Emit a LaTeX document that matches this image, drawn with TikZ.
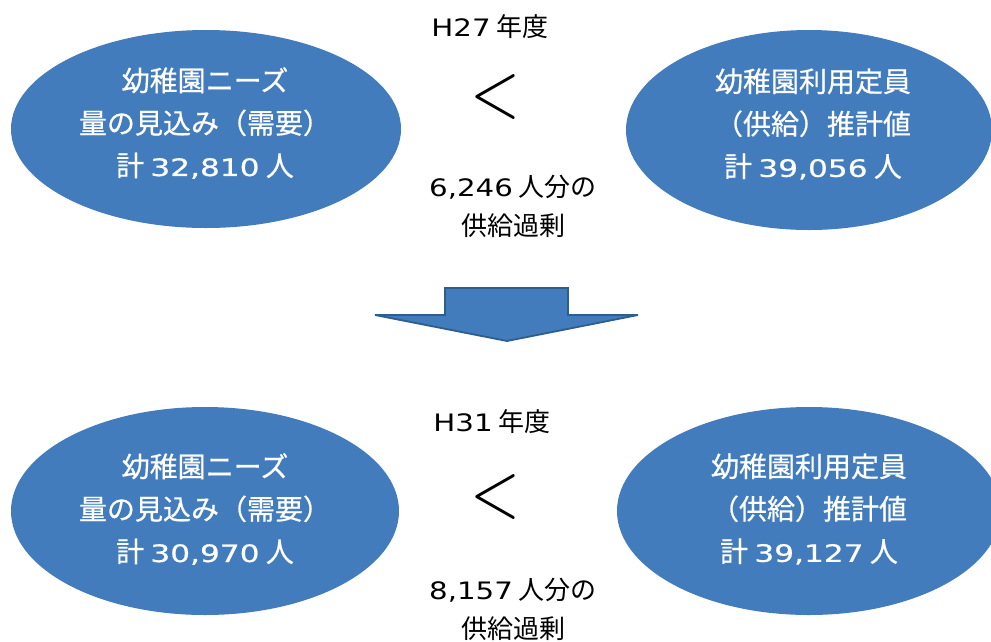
\documentclass[tikz,border=0pt]{standalone}
\usepackage{fontspec}
\usepackage{graphicx}
\setmainfont{Noto Sans CJK JP}
\newfontfamily\ovalfont[FakeBold=0.6]{Noto Sans CJK JP}
\newfontfamily\latfont{DejaVu Sans}
\newfontfamily\latboldfont[FakeBold=0.6]{DejaVu Sans}
\newcommand\lat[1]{\scalebox{1.22}[1]{\latfont\fontsize{24}{28}\selectfont #1}}
\newcommand\ovallat[1]{\scalebox{1.3}[1]{\latboldfont\fontsize{24}{28}\selectfont #1}}
\usetikzlibrary{shapes.geometric}
\definecolor{ellblue}{HTML}{427CBC}
\definecolor{arrowline}{HTML}{2E5E8E}
\begin{document}
\begin{tikzpicture}[x=1pt,y=-1pt,
  oval/.style={ellipse, fill=ellblue, draw=none, inner sep=0pt},
  ovaltext/.style={text=white, align=center, inner sep=0pt, font=\ovalfont\fontsize{28}{42.5}\selectfont},
  midtext/.style={text=black, align=center, inner sep=0pt, font=\fontsize{26}{39}\selectfont},
  ltsign/.style={text=black, inner sep=0pt},
  blockarrow/.style={draw=arrowline, fill=ellblue, line width=1.8pt, line join=miter}]
\useasboundingbox (0,0) rectangle (991,641);
% H27
\node[oval, minimum width=390pt, minimum height=198pt] (need27) at (206,129) {};
\node[ovaltext] (need27t) at (205,123) {幼稚園ニーズ\\量の見込み（需要）\\計 \ovallat{32,810} 人};
\node[oval, minimum width=366pt, minimum height=200pt] (cap27) at (809,130) {};
\node[ovaltext] (cap27t) at (813,124) {幼稚園利用定員\\（供給）推計値\\計 \ovallat{39,056} 人};
\node[midtext] (year27) at (490,27) {\lat{H27} 年度};
\node[ltsign] (lt27) at (495,97) {\resizebox*{50pt}{45pt}{$<$}};
\node[midtext] (surplus27) at (513,206) {\lat{6,246} 人分の\\供給過剰};
% arrow
\path (445,288) coordinate (a1) (568,288) coordinate (a2) (568,315) coordinate (a3)
      (638,315) coordinate (a4) (507,341) coordinate (a5) (375,315) coordinate (a6)
      (445,315) coordinate (a7);
\draw[blockarrow] (a1) -- (a2) -- (a3) -- (a4) -- (a5) -- (a6) -- (a7) -- cycle;
% H31
\node[oval, minimum width=388pt, minimum height=208pt] (need31) at (205,511) {};
\node[ovaltext] (need31t) at (205,509) {幼稚園ニーズ\\量の見込み（需要）\\計 \ovallat{30,970} 人};
\node[oval, minimum width=384pt, minimum height=208pt] (cap31) at (809,511) {};
\node[ovaltext] (cap31t) at (809,509) {幼稚園利用定員\\（供給）推計値\\計 \ovallat{39,127} 人};
\node[midtext] (year31) at (492,422) {\lat{H31} 年度};
\node[ltsign] (lt31) at (495,497) {\resizebox*{50pt}{45pt}{$<$}};
\node[midtext] (surplus31) at (513,609) {\lat{8,157} 人分の\\供給過剰};
\end{tikzpicture}
\end{document}
